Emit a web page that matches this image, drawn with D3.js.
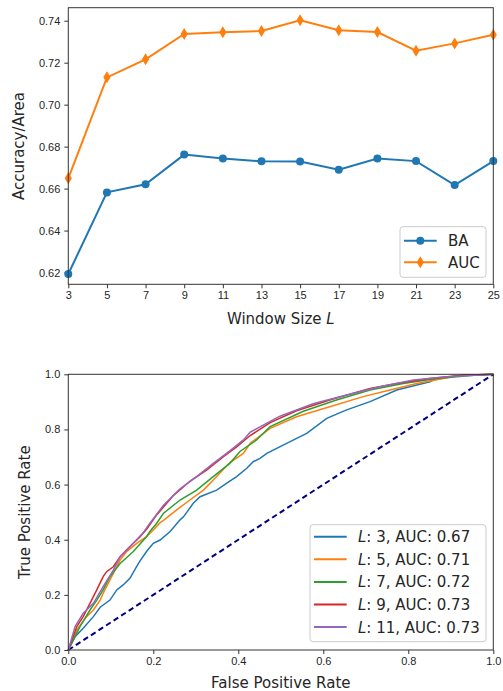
<!DOCTYPE html>
<html>
<head>
<meta charset="utf-8">
<script src="https://cdn.jsdelivr.net/npm/d3@7"></script>
<style>
body { margin: 0; background: #fff; }
svg { font-family: "DejaVu Sans", sans-serif; }
</style>
</head>
<body>
<svg id="chart" width="503" height="691"></svg>
<script>
// top panel: metrics vs window size
var windowSizes = [3, 5, 7, 9, 11, 13, 15, 17, 19, 21, 23, 25];
var baValues = [0.6193, 0.6582, 0.6621, 0.6762, 0.6743, 0.6730, 0.6729, 0.6690, 0.6743, 0.6731, 0.6617, 0.6731];
var aucValues = [0.6649, 0.7130, 0.7216, 0.7337, 0.7345, 0.7351, 0.7402, 0.7355, 0.7346, 0.7257, 0.7292, 0.7333];
var topYTicks = [0.62, 0.64, 0.66, 0.68, 0.70, 0.72, 0.74];

// bottom panel: ROC curves [fpr, tpr]
var rocL3 = [[0, 0], [0.016, 0.048], [0.035, 0.079], [0.059, 0.121], [0.075, 0.155], [0.098, 0.181], [0.114, 0.218], [0.129, 0.236], [0.145, 0.26], [0.165, 0.314], [0.184, 0.357], [0.2, 0.387], [0.216, 0.399], [0.239, 0.429], [0.263, 0.472], [0.271, 0.483], [0.294, 0.532], [0.31, 0.556], [0.349, 0.58], [0.373, 0.605], [0.396, 0.629], [0.42, 0.659], [0.435, 0.683], [0.451, 0.695], [0.467, 0.713], [0.522, 0.756], [0.561, 0.786], [0.608, 0.84], [0.655, 0.871], [0.71, 0.901], [0.773, 0.943], [0.82, 0.961], [0.851, 0.973], [0.867, 0.985], [0.929, 0.997], [1, 1]];
var rocL5 = [[0, 0], [0.02, 0.073], [0.043, 0.121], [0.059, 0.145], [0.075, 0.181], [0.082, 0.206], [0.09, 0.23], [0.098, 0.254], [0.11, 0.29], [0.122, 0.326], [0.137, 0.357], [0.161, 0.387], [0.184, 0.411], [0.2, 0.435], [0.216, 0.462], [0.224, 0.47], [0.255, 0.508], [0.286, 0.544], [0.318, 0.58], [0.349, 0.629], [0.38, 0.68], [0.412, 0.713], [0.428, 0.75], [0.475, 0.804], [0.537, 0.846], [0.615, 0.882], [0.694, 0.919], [0.757, 0.943], [0.82, 0.967], [0.882, 0.985], [0.929, 0.997], [1, 1]];
var rocL7 = [[0, 0], [0.0275, 0.085], [0.051, 0.145], [0.067, 0.181], [0.082, 0.218], [0.098, 0.266], [0.122, 0.314], [0.153, 0.357], [0.184, 0.411], [0.192, 0.43], [0.208, 0.46], [0.224, 0.496], [0.263, 0.544], [0.302, 0.58], [0.341, 0.629], [0.38, 0.677], [0.404, 0.72], [0.443, 0.762], [0.475, 0.81], [0.553, 0.866], [0.631, 0.907], [0.71, 0.943], [0.788, 0.967], [0.867, 0.985], [0.961, 0.997], [1, 1]];
var rocL9 = [[0, 0], [0.02, 0.085], [0.035, 0.121], [0.051, 0.169], [0.067, 0.218], [0.082, 0.266], [0.09, 0.284], [0.106, 0.302], [0.122, 0.338], [0.137, 0.363], [0.153, 0.387], [0.169, 0.411], [0.185, 0.44], [0.208, 0.49], [0.247, 0.56], [0.286, 0.612], [0.326, 0.653], [0.365, 0.701], [0.396, 0.737], [0.428, 0.778], [0.475, 0.825], [0.537, 0.868], [0.615, 0.907], [0.71, 0.949], [0.773, 0.967], [0.851, 0.985], [0.929, 0.997], [1, 1]];
var rocL11 = [[0, 0], [0.016, 0.085], [0.035, 0.133], [0.059, 0.169], [0.082, 0.23], [0.106, 0.29], [0.122, 0.338], [0.153, 0.387], [0.176, 0.425], [0.192, 0.46], [0.224, 0.525], [0.263, 0.585], [0.302, 0.629], [0.341, 0.677], [0.38, 0.722], [0.412, 0.762], [0.428, 0.79], [0.498, 0.848], [0.576, 0.893], [0.655, 0.925], [0.733, 0.955], [0.812, 0.979], [0.89, 0.991], [0.98, 0.998], [1, 1]];
var rocSeries = [rocL3, rocL5, rocL7, rocL9, rocL11];
var rocLabels = ["3", "5", "7", "9", "11"];
var rocAucs = ["0.67", "0.71", "0.72", "0.73", "0.73"];
var rateTicks = [0, 0.2, 0.4, 0.6, 0.8, 1.0];

var colors = ["#1f77b4", "#ff7f0e", "#2ca02c", "#d62728", "#9467bd"];
var axisColor = "#333";
var textColor = "#262626";

var svg = d3.select("#chart");

var drawFrame = function(g, w, h)
{
    g.append("rect")
        .attr("x", 0).attr("y", 0)
        .attr("width", w).attr("height", h)
        .attr("fill", "none")
        .attr("stroke", axisColor)
        .attr("stroke-width", 1);
}

var styleAxis = function(sel)
{
    sel.select(".domain").remove();
    sel.selectAll(".tick line").attr("stroke", axisColor);
    sel.selectAll(".tick text")
        .attr("fill", textColor)
        .style("font-size", "11px");
}

// ---------- top panel ----------
var left = 68.3, right = 493.3;
var top1 = 7.7, bottom1 = 284.3;

var xTop = d3.scaleLinear()
    .domain([3, 25])
    .range([left, right]);

var yTop = d3.scaleLinear()
    .domain([0.6144, 0.7462])
    .range([bottom1, top1]);

var gTop = svg.append("g");

gTop.append("g")
    .attr("transform", "translate(0," + bottom1 + ")")
    .call(d3.axisBottom(xTop).tickValues(windowSizes).tickFormat(d3.format("d")).tickSizeOuter(0).tickSize(4).tickPadding(3))
    .call(styleAxis);

gTop.append("g")
    .attr("transform", "translate(" + left + ",0)")
    .call(d3.axisLeft(yTop).tickValues(topYTicks).tickFormat(d3.format(".2f")).tickSizeOuter(0).tickSize(4).tickPadding(4))
    .call(styleAxis);

svg.append("clipPath").attr("id", "clipTop")
    .append("rect")
    .attr("x", left - 6).attr("y", top1)
    .attr("width", right - left + 12).attr("height", bottom1 - top1);

var lineTop = function(values)
{
    return d3.line()
        .x(function(d, i) { return xTop(windowSizes[i]); })
        .y(function(d) { return yTop(d); })(values);
}

var plotTop = gTop.append("g").attr("clip-path", "url(#clipTop)");

plotTop.append("path")
    .attr("d", lineTop(baValues))
    .attr("fill", "none")
    .attr("stroke", colors[0])
    .attr("stroke-width", 2);

plotTop.selectAll("circle.ba")
    .data(baValues)
    .enter()
    .append("circle")
    .attr("class", "ba")
    .attr("cx", function(d, i) { return xTop(windowSizes[i]); })
    .attr("cy", function(d) { return yTop(d); })
    .attr("r", 4)
    .attr("fill", colors[0]);

plotTop.append("path")
    .attr("d", lineTop(aucValues))
    .attr("fill", "none")
    .attr("stroke", colors[1])
    .attr("stroke-width", 2);

var diamond = "M0,-6L3.6,0L0,6L-3.6,0Z";

plotTop.selectAll("path.auc")
    .data(aucValues)
    .enter()
    .append("path")
    .attr("class", "auc")
    .attr("d", diamond)
    .attr("transform", function(d, i) { return "translate(" + xTop(windowSizes[i]) + "," + yTop(d) + ")"; })
    .attr("fill", colors[1]);

drawFrame(gTop.append("g").attr("transform", "translate(" + left + "," + top1 + ")"), right - left, bottom1 - top1);

gTop.append("text")
    .attr("x", (left + right) / 2)
    .attr("y", 324)
    .attr("text-anchor", "middle")
    .attr("fill", textColor)
    .style("font-size", "15px")
    .html("Window Size <tspan font-style='italic'>L</tspan>");

gTop.append("text")
    .attr("transform", "translate(24," + ((top1 + bottom1) / 2) + ") rotate(-90)")
    .attr("text-anchor", "middle")
    .attr("fill", textColor)
    .style("font-size", "15px")
    .text("Accuracy/Area");

// legend top
var legTop = gTop.append("g").attr("transform", "translate(400,226.7)");
legTop.append("rect")
    .attr("width", 86).attr("height", 50.6)
    .attr("rx", 3)
    .attr("fill", "#fff").attr("fill-opacity", 0.8)
    .attr("stroke", "#ccc");
[["BA", colors[0], "circle"], ["AUC", colors[1], "diamond"]].forEach(function(item, i)
{
    var yy = 14 + i * 21.6;
    legTop.append("line")
        .attr("x1", 4).attr("x2", 36.7)
        .attr("y1", yy).attr("y2", yy)
        .attr("stroke", item[1]).attr("stroke-width", 2);
    if (item[2] == "circle")
    {
        legTop.append("circle").attr("cx", 20.3).attr("cy", yy).attr("r", 4).attr("fill", item[1]);
    }
    else
    {
        legTop.append("path").attr("d", diamond)
            .attr("transform", "translate(20.3," + yy + ")")
            .attr("fill", item[1]);
    }
    legTop.append("text")
        .attr("x", 48).attr("y", yy + 5.5)
        .attr("fill", textColor)
        .style("font-size", "15px")
        .text(item[0]);
});

// ---------- bottom panel ----------
var top2 = 374.3, bottom2 = 650;

var xBot = d3.scaleLinear().domain([0, 1]).range([left, right]);
var yBot = d3.scaleLinear().domain([0, 1]).range([bottom2, top2]);

var gBot = svg.append("g");

gBot.append("g")
    .attr("transform", "translate(0," + bottom2 + ")")
    .call(d3.axisBottom(xBot).tickValues(rateTicks).tickFormat(d3.format(".1f")).tickSizeOuter(0).tickSize(4).tickPadding(3))
    .call(styleAxis);

gBot.append("g")
    .attr("transform", "translate(" + left + ",0)")
    .call(d3.axisLeft(yBot).tickValues(rateTicks).tickFormat(d3.format(".1f")).tickSizeOuter(0).tickSize(4).tickPadding(4))
    .call(styleAxis);

var rocLine = d3.line()
    .x(function(d) { return xBot(d[0]); })
    .y(function(d) { return yBot(d[1]); });

gBot.append("path")
    .attr("d", rocLine([[0, 0], [1, 1]]))
    .attr("stroke", "navy")
    .attr("stroke-width", 2)
    .attr("stroke-dasharray", "5.5,3.5")
    .attr("fill", "none");

rocSeries.forEach(function(series, i)
{
    gBot.append("path")
        .attr("d", rocLine(series))
        .attr("fill", "none")
        .attr("stroke", colors[i])
        .attr("stroke-width", 1.5);
});

drawFrame(gBot.append("g").attr("transform", "translate(" + left + "," + top2 + ")"), right - left, bottom2 - top2);

gBot.append("text")
    .attr("x", (left + right) / 2)
    .attr("y", 688)
    .attr("text-anchor", "middle")
    .attr("fill", textColor)
    .style("font-size", "15px")
    .text("False Positive Rate");

gBot.append("text")
    .attr("transform", "translate(30," + ((top2 + bottom2) / 2) + ") rotate(-90)")
    .attr("text-anchor", "middle")
    .attr("fill", textColor)
    .style("font-size", "15px")
    .text("True Positive Rate");

var legBot = gBot.append("g").attr("transform", "translate(310,524.7)");
legBot.append("rect")
    .attr("width", 176).attr("height", 117)
    .attr("rx", 3)
    .attr("fill", "#fff").attr("fill-opacity", 0.8)
    .attr("stroke", "#ccc");
rocLabels.forEach(function(lab, i)
{
    var yy = 12 + i * 22.6;
    legBot.append("line")
        .attr("x1", 4).attr("x2", 36.7)
        .attr("y1", yy).attr("y2", yy)
        .attr("stroke", colors[i]).attr("stroke-width", 2);
    legBot.append("text")
        .attr("x", 48).attr("y", yy + 5.5)
        .attr("fill", textColor)
        .style("font-size", "15px")
        .html("<tspan font-style='italic'>L</tspan>: " + lab + ", AUC: " + rocAucs[i]);
});
</script>
</body>
</html>
